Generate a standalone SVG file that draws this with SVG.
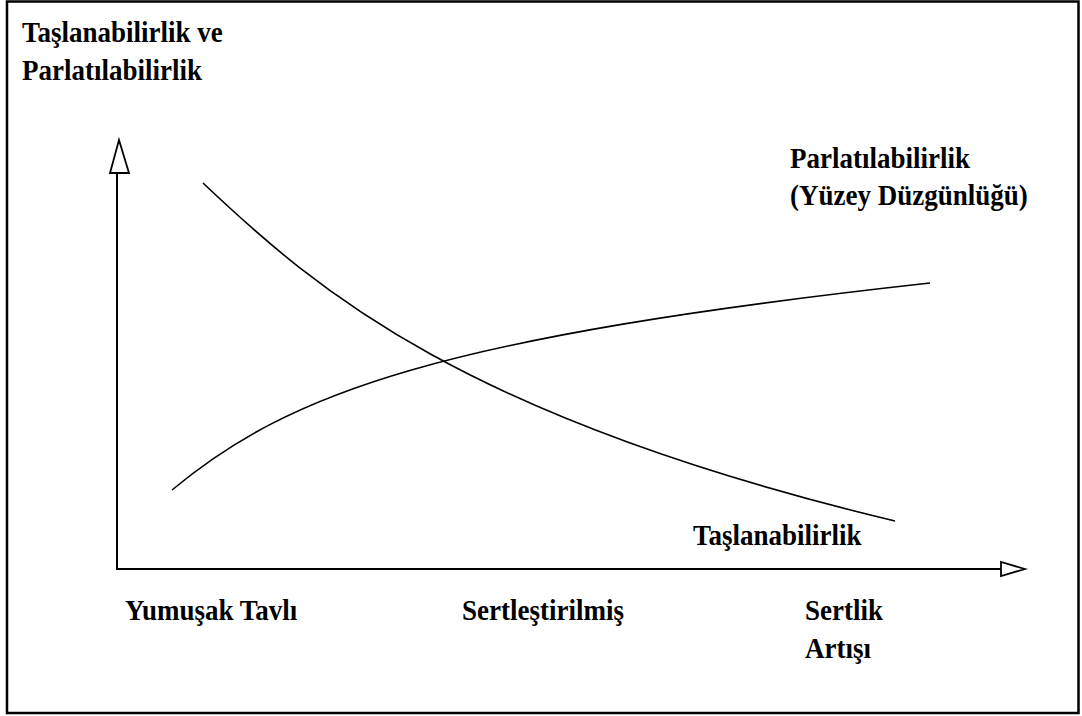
<svg xmlns="http://www.w3.org/2000/svg" width="1082" height="716" viewBox="0 0 1082 716">
  <style>
    text { font-family: 'Liberation Serif', 'DejaVu Serif', 'Times New Roman', serif; font-weight: 700; font-size: 27px; fill: #000; }
    .axis { stroke: #000; stroke-width: 2; fill: none; }
    .curve { stroke: #000; stroke-width: 1.6; fill: none; }
    .head { stroke: #000; stroke-width: 1.8; fill: #fff; stroke-linejoin: miter; }
  </style>
  <rect x="0" y="0" width="1082" height="716" fill="#fff"/>
  <!-- frame -->
  <rect x="7" y="1.5" width="1071.5" height="711.5" fill="none" stroke="#000" stroke-width="2.5"/>

  <g id="axes">
    <line class="axis" x1="117" y1="569" x2="117" y2="172"/>
    <polygon class="head" points="119,140 110,173 129,173"/>
    <line class="axis" x1="116" y1="569" x2="1001" y2="569"/>
    <polygon class="head" points="1025,569 1001,562 1001,576"/>
  </g>

  <g id="connectors">
    <!-- grindability: falls with hardness -->
    <path id="curve-grind" class="curve" d="M203,183 C318,292 465,418 895,521"/>
    <!-- polishability: rises with hardness -->
    <path id="curve-polish" class="curve" d="M172,490 C290,392 440,337 930,283"/>
  </g>

  <!-- labels are stretched slightly upward to match the tall, narrow face -->
  <g id="y-title">
    <text transform="translate(22 42) scale(1 1.08)">Taşlanabilirlik ve</text>
    <text transform="translate(22 80) scale(1 1.08)">Parlatılabilirlik</text>
  </g>
  <g id="label-polish">
    <text transform="translate(790 168) scale(1 1.08)">Parlatılabilirlik</text>
    <text transform="translate(790 205) scale(1 1.08)">(Yüzey Düzgünlüğü)</text>
  </g>
  <g id="label-grind">
    <text transform="translate(693 545) scale(1 1.08)">Taşlanabilirlik</text>
  </g>
  <g id="tick-soft">
    <text transform="translate(125 620) scale(1 1.08)">Yumuşak Tavlı</text>
  </g>
  <g id="tick-hardened">
    <text transform="translate(462 620) scale(1 1.08)">Sertleştirilmiş</text>
  </g>
  <g id="tick-increase">
    <text transform="translate(805 620) scale(1 1.08)">Sertlik</text>
    <text transform="translate(805 658) scale(1 1.08)">Artışı</text>
  </g>
</svg>
